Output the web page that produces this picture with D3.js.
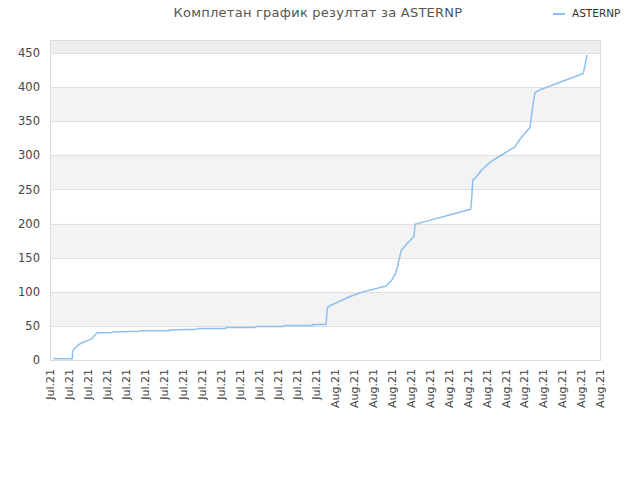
<!DOCTYPE html>
<html>
<head>
<meta charset="utf-8">
<script src="https://cdn.jsdelivr.net/npm/d3@7"></script>
<style>
  body { margin: 0; background: #fff; }
  svg { display: block; font-family: "DejaVu Sans", sans-serif; }
</style>
</head>
<body>
<div id="chart"></div>
<script>
var width = 640;
var height = 480;

// x tick labels (one per tick)
var tickLabels = [
    "Jul.21","Jul.21","Jul.21","Jul.21","Jul.21","Jul.21","Jul.21","Jul.21",
    "Jul.21","Jul.21","Jul.21","Jul.21","Jul.21","Jul.21","Jul.21",
    "Aug.21","Aug.21","Aug.21","Aug.21","Aug.21","Aug.21","Aug.21","Aug.21",
    "Aug.21","Aug.21","Aug.21","Aug.21","Aug.21","Aug.21","Aug.21"
];
var yTicks = [0, 50, 100, 150, 200, 250, 300, 350, 400, 450];

// position along the x axis (in tick units) and cumulative score
var pos = [0.18, 1.18, 1.19, 1.27, 1.49, 1.67, 1.94, 2.2, 2.34, 2.49, 3.25, 3.27,
    4.75, 4.77, 6.27, 6.3, 7.75, 7.78, 9.26, 9.28, 10.81, 10.83, 12.35, 12.37,
    13.83, 13.85, 14.54, 14.57, 14.63, 14.76, 15.82, 16.52, 17.23, 17.72, 18.02,
    18.19, 18.33, 18.4, 18.51, 18.84, 19.19, 19.25, 19.51, 21.26, 22.18, 22.23,
    22.29, 22.41, 22.76, 23.24, 23.73, 24.52, 24.78, 25.31, 25.45, 25.57, 25.84,
    28.12, 28.21, 28.31];
var score = [2, 2, 12, 16, 22, 25, 28, 31, 36, 40, 40, 41,
    42, 43, 43, 44, 45, 46, 46, 47.5, 47.5, 49, 49, 50.5,
    50.5, 52, 52, 58, 77, 79.5, 93, 100, 105, 108.5, 117,
    125, 137, 146.6, 160, 171, 181, 199, 201, 214, 221, 235,
    264, 266, 278.5, 290.7, 299, 312.7, 323.5, 341, 371, 392, 396,
    420, 432, 447];

var seriesName = "ASTERNP";
var title = "Комплетан график резултат за ASTERNP";

var margin = {top: 40, right: 40, bottom: 120, left: 50};
var plotW = width - margin.left - margin.right;
var plotH = height - margin.top - margin.bottom;

var xScale = d3.scaleLinear()
    .domain([0, tickLabels.length - 1])
    .range([0, plotW]);

var yScale = d3.scaleLinear()
    .domain([0, 469])
    .range([plotH, 0]);

var svg = d3.select("#chart").append("svg")
    .attr("width", width)
    .attr("height", height);

var g = svg.append("g")
    .attr("transform", "translate(" + margin.left + "," + margin.top + ")");

// alternating bands
var bands = yTicks.map(function(d, i) {
    return {lo: d, hi: i + 1 < yTicks.length ? yTicks[i + 1] : yScale.domain()[1], i: i};
});
g.selectAll(".band")
    .data(bands)
    .enter().append("rect")
    .attr("class", "band")
    .attr("x", 0)
    .attr("width", plotW)
    .attr("y", function(d) { return yScale(d.hi); })
    .attr("height", function(d) { return yScale(d.lo) - yScale(d.hi); })
    .style("fill", function(d) {
        if (d.i == yTicks.length - 1) return "#eeeeee";
        return d.i % 2 == 1 ? "#f3f3f3" : "#ffffff";
    });

// grid lines
g.selectAll(".grid")
    .data(yTicks)
    .enter().append("line")
    .attr("x1", 0)
    .attr("x2", plotW)
    .attr("y1", function(d) { return Math.round(yScale(d)) + 0.5; })
    .attr("y2", function(d) { return Math.round(yScale(d)) + 0.5; })
    .style("stroke", "#e0e0e0")
    .style("stroke-width", 1);

// plot border
g.append("rect")
    .attr("x", 0.5)
    .attr("y", 0.5)
    .attr("width", plotW)
    .attr("height", plotH)
    .style("fill", "none")
    .style("stroke", "#dcdcdc")
    .style("stroke-width", 1);

// y axis labels
var yAxis = d3.axisLeft(yScale).tickValues(yTicks).tickSize(0).tickPadding(10);
var yG = g.append("g").call(yAxis);
yG.select(".domain").remove();
yG.selectAll("text")
    .style("font-size", "11.5px")
    .style("fill", "#444")
    .style("font-family", "DejaVu Sans");

// x axis labels
var xAxis = d3.axisBottom(xScale)
    .tickValues(d3.range(tickLabels.length))
    .tickFormat(function(d) { return tickLabels[d]; })
    .tickSize(0);
var xG = g.append("g")
    .attr("transform", "translate(0," + plotH + ")")
    .call(xAxis);
xG.select(".domain").remove();
xG.selectAll("text")
    .attr("transform", "rotate(-90)")
    .attr("x", -9)
    .attr("y", 0)
    .attr("dy", "0.35em")
    .style("text-anchor", "end")
    .style("font-size", "11px")
    .style("fill", "#444")
    .style("font-family", "DejaVu Sans");

// the line
var pts = pos.map(function(p, i) { return [p, score[i]]; });
var line = d3.line()
    .x(function(d) { return xScale(d[0]); })
    .y(function(d) { return yScale(d[1]); });

g.append("path")
    .attr("d", line(pts))
    .style("fill", "none")
    .style("stroke", "#8dbff0")
    .style("stroke-width", 1.5)
    .style("stroke-linejoin", "round");

// title
svg.append("text")
    .attr("x", 318)
    .attr("y", 17)
    .style("text-anchor", "middle")
    .style("font-size", "13px")
    .style("letter-spacing", "0.25px")
    .style("fill", "#555")
    .text(title);

// legend
svg.append("line")
    .attr("x1", 553)
    .attr("x2", 565)
    .attr("y1", 14)
    .attr("y2", 14)
    .style("stroke", "#8dbff0")
    .style("stroke-width", 2);
svg.append("text")
    .attr("x", 572)
    .attr("y", 17)
    .style("font-size", "10.5px")
    .style("fill", "#333")
    .text(seriesName);
</script>
</body>
</html>
